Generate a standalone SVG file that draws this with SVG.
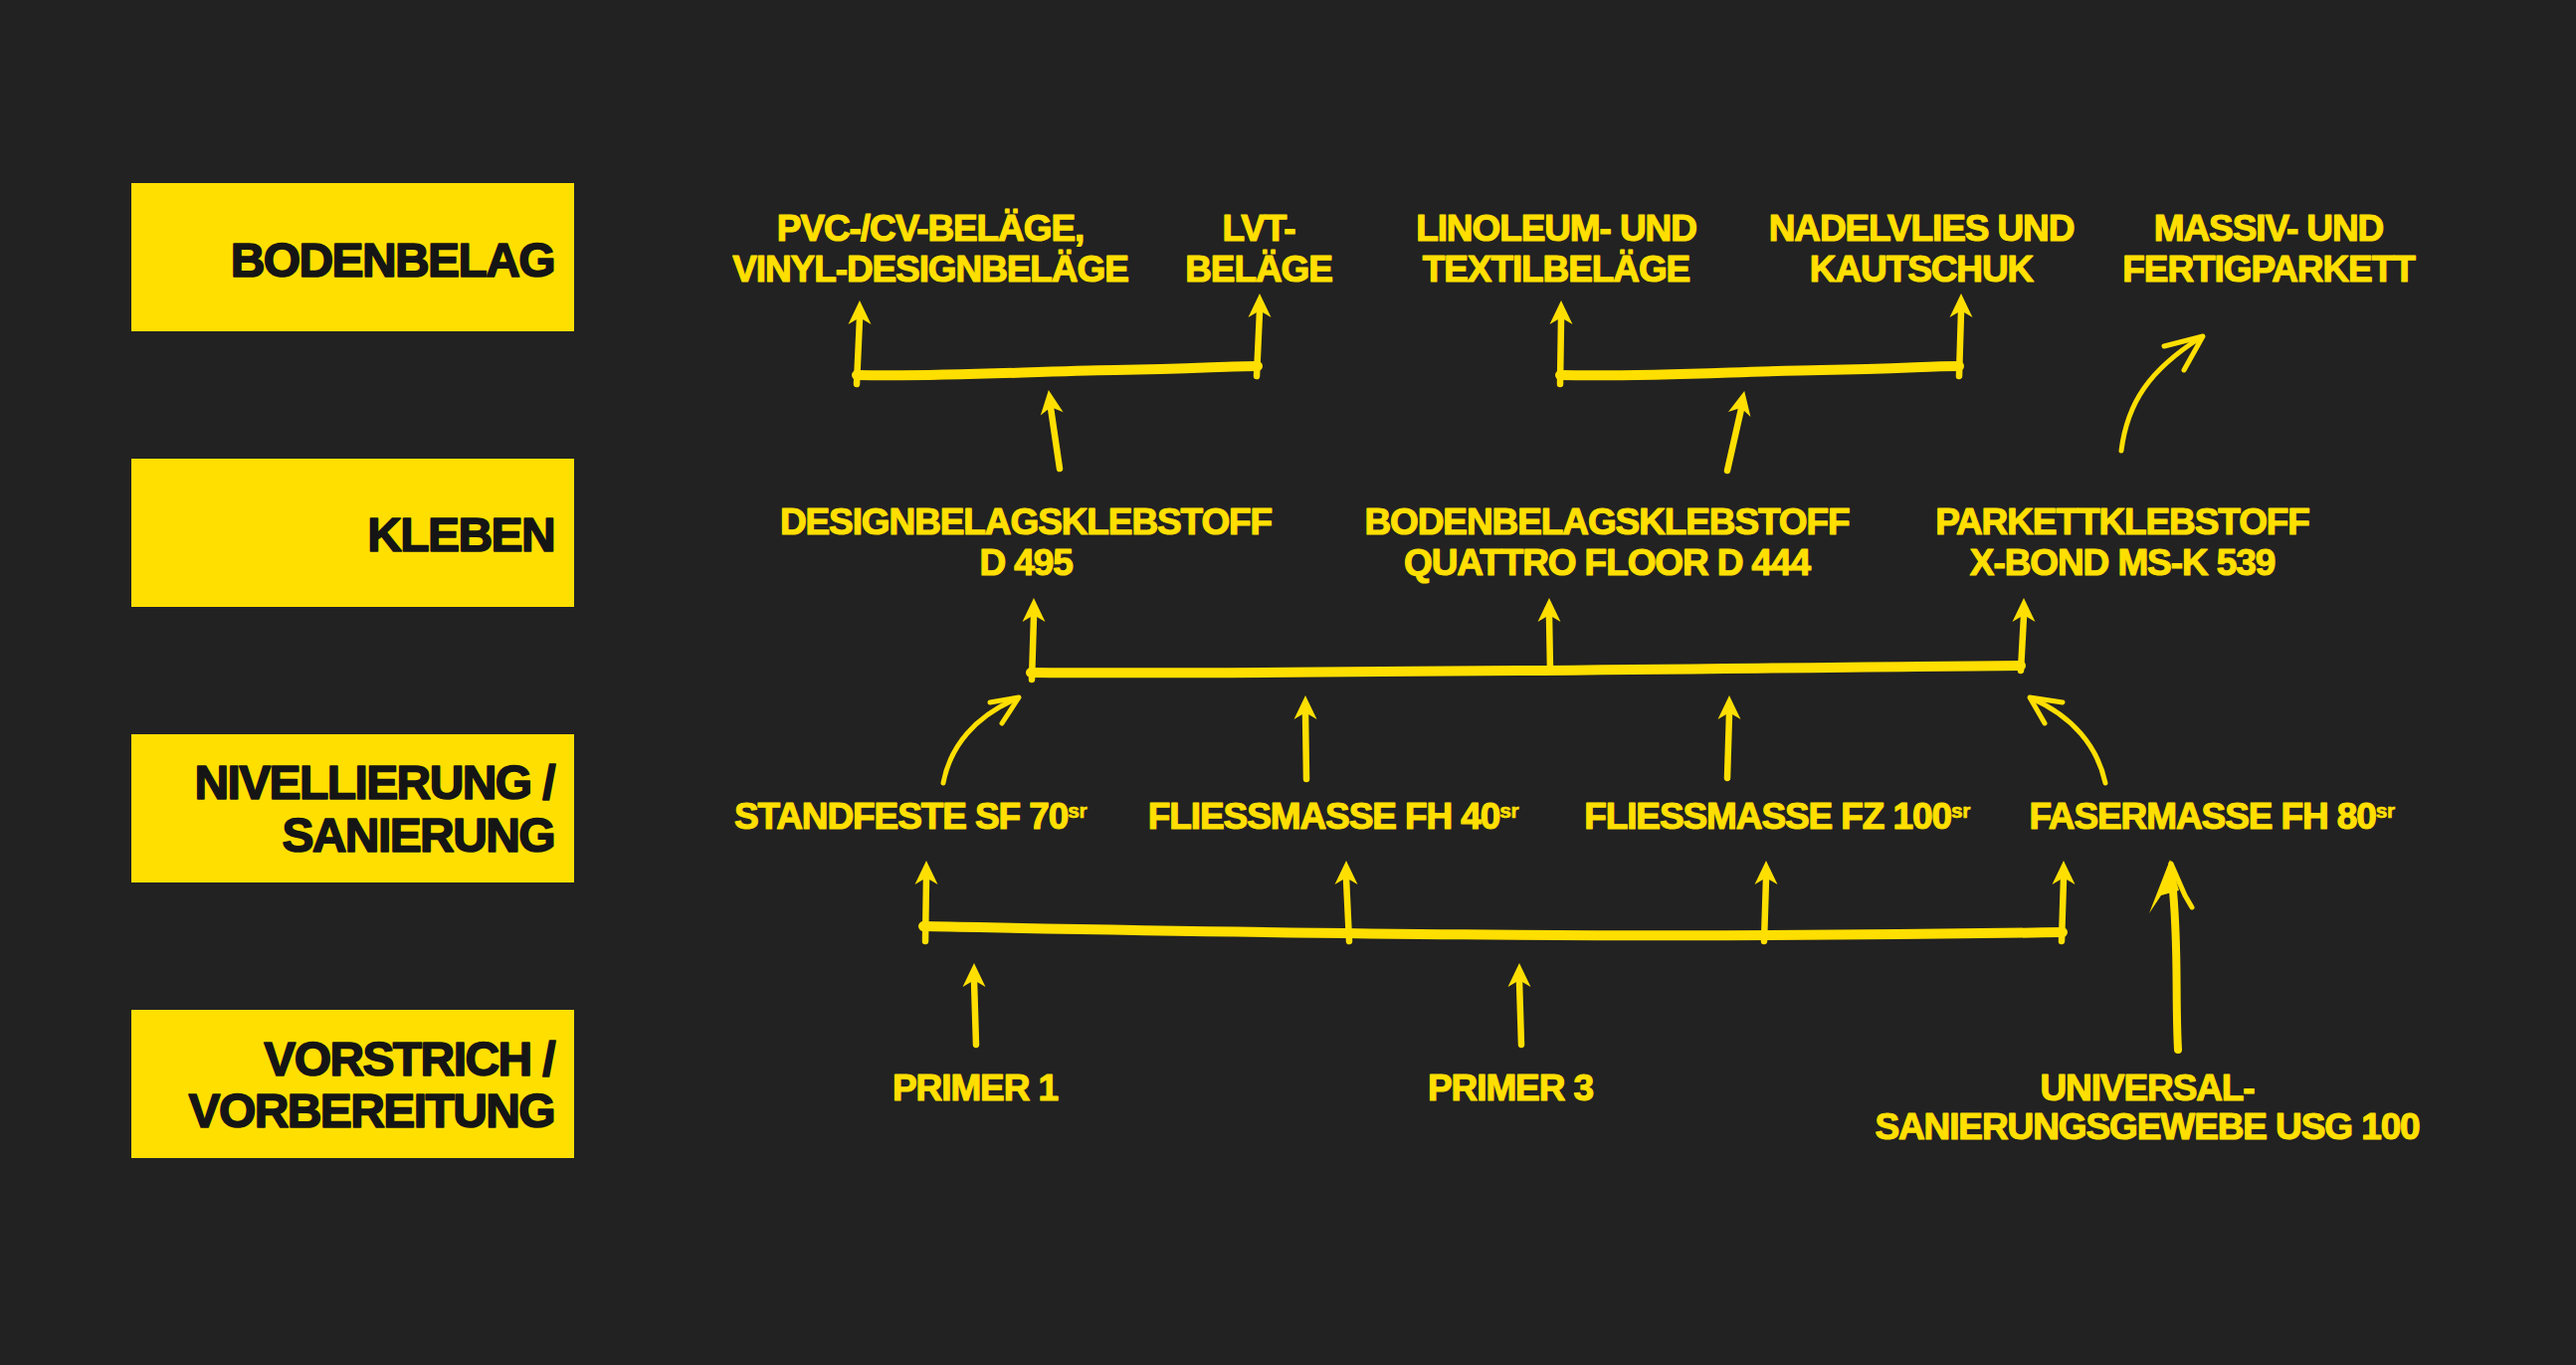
<svg xmlns="http://www.w3.org/2000/svg" xmlns:xlink="http://www.w3.org/1999/xlink" width="2589" height="1372" viewBox="0 0 2589 1372">
<style>
.bg{fill:#222222}
.cat rect{fill:#FFDF00}
.cat text{font-family:"Liberation Sans",Arial,sans-serif;font-weight:700;font-size:48px;letter-spacing:-1.6px;fill:#151515;stroke:#151515;stroke-width:1.6px;stroke-linejoin:round;text-anchor:end}
.lbl text{font-family:"Liberation Sans",Arial,sans-serif;font-weight:700;font-size:37px;letter-spacing:-1.1px;fill:#FFDF00;stroke:#FFDF00;stroke-width:1.2px;stroke-linejoin:round;text-anchor:middle}
.lbl .sup{font-size:21px;letter-spacing:-0.5px;stroke-width:0.6px}
.sh{fill:none;stroke:#FFDF00;stroke-width:6.5;stroke-linecap:round;stroke-linejoin:round}
.bar{fill:none;stroke:#FFDF00;stroke-width:10;stroke-linecap:round}
.thin{fill:none;stroke:#FFDF00;stroke-width:5;stroke-linecap:round;stroke-linejoin:round}
.ah{fill:#FFDF00}
</style>
<defs>
<path id="ah" class="ah" d="M0,-1 L11.5,23 L3,18 L-3,18 L-11.5,23 Z"/>
</defs>
<rect class="bg" x="0" y="0" width="2589" height="1372"/>

<g id="cat-bodenbelag" class="cat">
<rect x="132" y="184" width="445" height="149"/>
<text x="557" y="278">BODENBELAG</text>
</g>
<g id="cat-kleben" class="cat">
<rect x="132" y="461" width="445" height="149"/>
<text x="557" y="554">KLEBEN</text>
</g>
<g id="cat-nivellierung" class="cat">
<rect x="132" y="738" width="445" height="149"/>
<text x="557" y="803">NIVELLIERUNG /</text>
<text x="557" y="856">SANIERUNG</text>
</g>
<g id="cat-vorstrich" class="cat">
<rect x="132" y="1015" width="445" height="149"/>
<text x="557" y="1081">VORSTRICH /</text>
<text x="557" y="1133">VORBEREITUNG</text>
</g>

<g id="n-pvc" class="lbl"><text x="935" y="242">PVC-/CV-BELÄGE,</text><text x="935" y="283">VINYL-DESIGNBELÄGE</text></g>
<g id="n-lvt" class="lbl"><text x="1265" y="242">LVT-</text><text x="1265" y="283">BELÄGE</text></g>
<g id="n-linoleum" class="lbl"><text x="1564" y="242">LINOLEUM- UND</text><text x="1564" y="283">TEXTILBELÄGE</text></g>
<g id="n-nadelvlies" class="lbl"><text x="1931" y="242">NADELVLIES UND</text><text x="1931" y="283">KAUTSCHUK</text></g>
<g id="n-parkett" class="lbl"><text x="2280" y="242">MASSIV- UND</text><text x="2280" y="283">FERTIGPARKETT</text></g>

<g id="n-d495" class="lbl"><text x="1031" y="537">DESIGNBELAGSKLEBSTOFF</text><text x="1031" y="578">D 495</text></g>
<g id="n-d444" class="lbl"><text x="1615" y="537">BODENBELAGSKLEBSTOFF</text><text x="1615" y="578">QUATTRO FLOOR D 444</text></g>
<g id="n-msk539" class="lbl"><text x="2133" y="537">PARKETTKLEBSTOFF</text><text x="2133" y="578">X-BOND MS-K 539</text></g>

<g id="n-sf70" class="lbl"><text x="915" y="833">STANDFESTE SF 70<tspan class="sup" dy="-11">sr</tspan></text></g>
<g id="n-fh40" class="lbl"><text x="1340" y="833">FLIESSMASSE FH 40<tspan class="sup" dy="-11">sr</tspan></text></g>
<g id="n-fz100" class="lbl"><text x="1786" y="833">FLIESSMASSE FZ 100<tspan class="sup" dy="-11">sr</tspan></text></g>
<g id="n-fh80" class="lbl"><text x="2223" y="833">FASERMASSE FH 80<tspan class="sup" dy="-11">sr</tspan></text></g>

<g id="n-primer1" class="lbl"><text x="980" y="1106">PRIMER 1</text></g>
<g id="n-primer3" class="lbl"><text x="1518" y="1106">PRIMER 3</text></g>
<g id="n-usg100" class="lbl"><text x="2158" y="1106">UNIVERSAL-</text><text x="2158" y="1145">SANIERUNGSGEWEBE USG 100</text></g>

<g id="connectors">
<!-- top left bracket -->
<path class="bar" d="M861,377 C950,379 1040,373 1120,372 S1230,368 1264,368"/>
<path class="sh" d="M861,386 L864,320"/><use xlink:href="#ah" transform="translate(864,303)"/>
<path class="sh" d="M1263,378 L1266,313"/><use xlink:href="#ah" transform="translate(1266,296)"/>
<path class="sh" d="M1065,471 L1056,410"/><use xlink:href="#ah" transform="translate(1054,393) rotate(-8)"/>
<!-- top right bracket -->
<path class="bar" d="M1568,377 C1660,379 1750,373 1830,372 S1935,368 1969,368"/>
<path class="sh" d="M1568,386 L1569,320"/><use xlink:href="#ah" transform="translate(1569,303)"/>
<path class="sh" d="M1969,378 L1971,313"/><use xlink:href="#ah" transform="translate(1971,296)"/>
<path class="sh" d="M1736,473 L1750,411"/><use xlink:href="#ah" transform="translate(1753,394) rotate(12)"/>
<!-- curved to parkett -->
<path class="thin" d="M2132,453 C2138,405 2160,372 2212,339"/>
<path class="thin" d="M2175,348 L2214,338 L2195,372"/>
<!-- kleben bracket -->
<path class="bar" d="M1036,676 C1300,678 1700,672 2031,669"/>
<path class="sh" d="M1037,683 L1039,619"/><use xlink:href="#ah" transform="translate(1039,602)"/>
<path class="sh" d="M1558,674 L1557,619"/><use xlink:href="#ah" transform="translate(1557,602)"/>
<path class="sh" d="M2031,674 L2034,619"/><use xlink:href="#ah" transform="translate(2034,602)"/>
<!-- curved from SF70 and FH80 -->
<path class="thin" d="M948,787 C955,750 980,720 1022,702"/>
<path class="thin" d="M995,706 L1024,701 L1007,727"/>
<path class="thin" d="M2116,787 C2108,750 2083,720 2042,702"/>
<path class="thin" d="M2073,706 L2040,701 L2055,727"/>
<!-- FH40 / FZ100 up -->
<path class="sh" d="M1313,783 L1312,717"/><use xlink:href="#ah" transform="translate(1312,700)"/>
<path class="sh" d="M1736,782 L1738,717"/><use xlink:href="#ah" transform="translate(1738,700)"/>
<!-- nivellierung bracket -->
<path class="bar" d="M928,931 C1200,936 1600,945 2073,937"/>
<path class="sh" d="M930,946 L931,883"/><use xlink:href="#ah" transform="translate(931,866)"/>
<path class="sh" d="M1356,946 L1353,883"/><use xlink:href="#ah" transform="translate(1353,866)"/>
<path class="sh" d="M1773,946 L1775,883"/><use xlink:href="#ah" transform="translate(1775,866)"/>
<path class="sh" d="M2072,946 L2074,883"/><use xlink:href="#ah" transform="translate(2074,866)"/>
<!-- primers -->
<path class="sh" d="M981,1050 L979,986"/><use xlink:href="#ah" transform="translate(979,969)"/>
<path class="sh" d="M1529,1050 L1527,986"/><use xlink:href="#ah" transform="translate(1527,969)"/>
<!-- USG 100 -->
<path class="sh" style="stroke-width:8" d="M2189,1055 C2186,1000 2190,950 2183,885"/>
<path class="ah" d="M2181,864 L2190,895 L2172,900 L2160,918 Z"/>
<path class="thin" d="M2182,868 L2196,900 L2203,912"/>
</g>
</svg>
